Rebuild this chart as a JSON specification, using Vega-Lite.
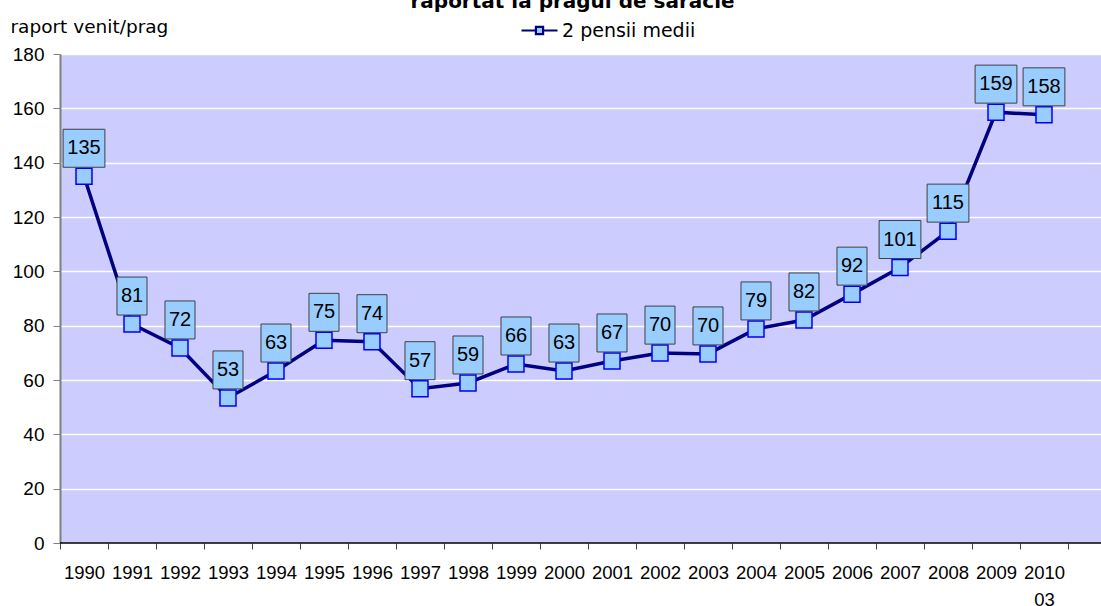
{
  "$schema": "https://vega.github.io/schema/vega-lite/v6.json",
  "width": 1041,
  "height": 489,
  "autosize": {"type": "none"},
  "padding": {"left": 60, "top": 54, "right": 0, "bottom": 63},
  "background": "white",
  "title": {
    "text": "raportat la pragul de sărăcie",
    "font": "DejaVu Sans",
    "fontSize": 20,
    "fontWeight": "bold",
    "color": "black",
    "anchor": "middle",
    "frame": "group",
    "offset": 8,
    "dx": -8,
    "dy": 3
  },
  "config": {
    "view": {"fill": "#CCCCFF", "stroke": null},
    "legend": {"padding": 0}
  },
  "data": {
    "values": [
      {"an": "1990", "v": 135.0},
      {"an": "1991", "v": 80.6},
      {"an": "1992", "v": 71.8},
      {"an": "1993", "v": 53.4},
      {"an": "1994", "v": 63.3},
      {"an": "1995", "v": 74.6},
      {"an": "1996", "v": 74.1},
      {"an": "1997", "v": 56.8},
      {"an": "1998", "v": 58.9},
      {"an": "1999", "v": 65.9},
      {"an": "2000", "v": 63.3},
      {"an": "2001", "v": 67.0},
      {"an": "2002", "v": 69.9},
      {"an": "2003", "v": 69.6},
      {"an": "2004", "v": 78.8},
      {"an": "2005", "v": 82.1},
      {"an": "2006", "v": 91.6},
      {"an": "2007", "v": 101.4},
      {"an": "2008", "v": 114.8},
      {"an": "2009", "v": 158.6},
      {"an": "2010 03", "v": 157.6}
    ]
  },
  "layer": [
    {
      "data": {"values": [{"baza": 0}]},
      "mark": {"type": "rule", "color": "black", "strokeWidth": 1.5},
      "encoding": {
        "y": {"field": "baza", "type": "quantitative", "scale": {"domain": [0, 180]}}
      }
    },
    {
      "mark": {"type": "line", "strokeWidth": 3.5},
      "encoding": {
        "x": {
          "field": "an",
          "type": "ordinal",
          "sort": null,
          "scale": {"paddingInner": 0, "paddingOuter": 0.34375, "align": 0},
          "axis": {
            "title": null,
            "domain": false,
            "ticks": true,
            "tickBand": "extent",
            "tickSize": 6,
            "tickColor": "#404040",
            "labelFont": "Liberation Sans",
            "labelFontSize": 18.5,
            "labelColor": "black",
            "labelAngle": 0,
            "labelBaseline": "top",
            "labelPadding": 14,
            "labelLineHeight": 27,
            "labelOverlap": false,
            "labelExpr": "split(datum.label, ' ')"
          }
        },
        "y": {
          "field": "v",
          "type": "quantitative",
          "scale": {"domain": [0, 180]},
          "axis": {
            "title": "raport venit/prag",
            "titleAngle": 0,
            "titleAlign": "left",
            "titleBaseline": "alphabetic",
            "titleX": -50,
            "titleY": -22,
            "titleFont": "DejaVu Sans",
            "titleFontSize": 18.5,
            "titleFontWeight": "normal",
            "titleColor": "black",
            "values": [0, 20, 40, 60, 80, 100, 120, 140, 160, 180],
            "labelFont": "Liberation Sans",
            "labelFontSize": 19,
            "labelColor": "black",
            "labelPadding": 9,
            "tickSize": 7,
            "tickColor": "#808080",
            "domainColor": "#808080",
            "domainWidth": 2,
            "grid": true,
            "gridColor": "white",
            "gridWidth": 1.5
          }
        },
        "color": {
          "datum": "2 pensii medii",
          "scale": {"range": ["#000080"]},
          "legend": {
            "title": null,
            "orient": "none",
            "legendX": 470,
            "legendY": -33,
            "symbolType": "M-3,0H-0.6M0.6,0H3M-0.6,-0.6H0.6V0.6H-0.6Z",
            "symbolSize": 144,
            "labelFont": "DejaVu Sans",
            "labelFontSize": 19,
            "labelColor": "black",
            "labelOffset": 13,
            "encode": {
              "symbols": {
                "update": {
                  "fill": {"value": "#99CCFF"},
                  "stroke": {"value": "#000080"},
                  "strokeWidth": {"value": 2.2}
                }
              }
            }
          }
        }
      }
    },
    {
      "mark": {"type": "point", "shape": "square", "filled": true, "fill": "#99CCFF", "stroke": "#0000FF", "strokeWidth": 1.5, "opacity": 1, "size": 256},
      "encoding": {
        "x": {"field": "an", "type": "ordinal", "sort": null},
        "y": {"field": "v", "type": "quantitative"}
      }
    },
    {
      "mark": {"type": "point", "filled": true, "fill": "#99CCFF", "stroke": "#404040", "strokeWidth": 1, "opacity": 1, "size": 1444, "yOffset": -28},
      "encoding": {
        "x": {"field": "an", "type": "ordinal", "sort": null},
        "y": {"field": "v", "type": "quantitative"},
        "shape": {
          "condition": {"test": "datum.v >= 99.5", "value": "M-1.1,-1H1.1V1H-1.1Z"},
          "value": "M-0.79,-1H0.79V1H-0.79Z"
        }
      }
    },
    {
      "mark": {"type": "text", "font": "Liberation Sans", "fontSize": 20, "color": "black", "baseline": "middle", "align": "center", "yOffset": -28},
      "encoding": {
        "x": {"field": "an", "type": "ordinal", "sort": null},
        "y": {"field": "v", "type": "quantitative"},
        "text": {"field": "v", "type": "quantitative", "format": ".0f"}
      }
    }
  ]
}
